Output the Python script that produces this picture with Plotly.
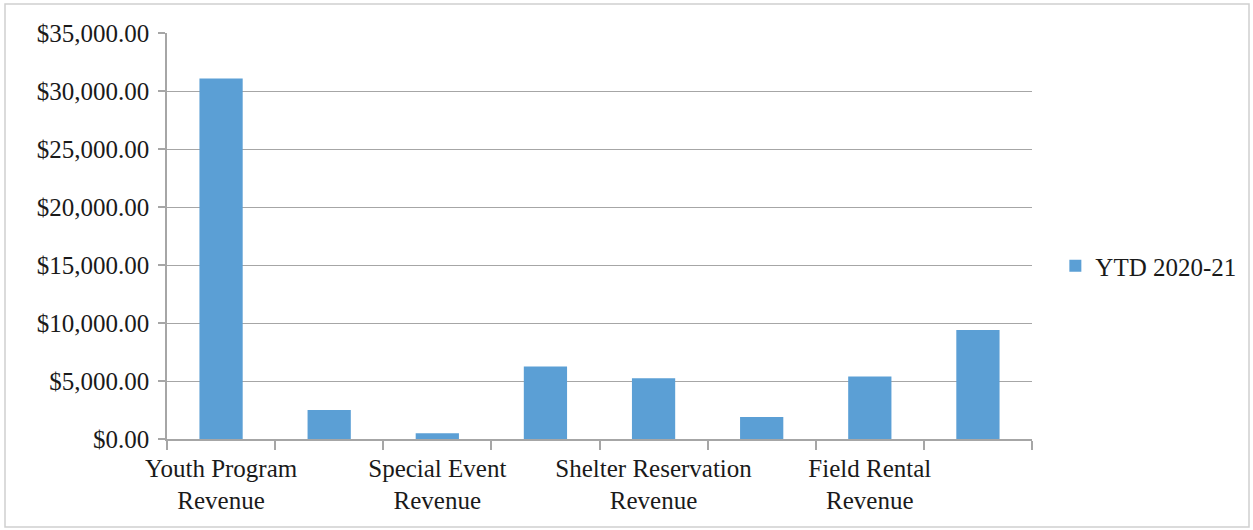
import plotly.graph_objects as go

# YTD 2020-21 revenue by line item (every other category is labelled on the axis)
positions = [0, 1, 2, 3, 4, 5, 6, 7]
revenue = [31070, 2510, 500, 6250, 5230, 1890, 5380, 9400]
label_positions = [0, 2, 4, 6]
tick_labels = [
    "Youth Program<br>Revenue",
    "Special Event<br>Revenue",
    "Shelter Reservation<br>Revenue",
    "Field Rental<br>Revenue",
]
series_name = "YTD 2020-21"
y_ticks = [0, 5000, 10000, 15000, 20000, 25000, 30000, 35000]

FONT = "Liberation Serif"
BAR = "#5b9fd5"
GRID = "#a6a6a6"

fig = go.Figure()
fig.add_trace(go.Bar(
    x=positions,
    y=revenue,
    name=series_name,
    width=0.4,
    marker=dict(color=BAR, line=dict(width=0)),
    showlegend=True,
))

fig.update_layout(
    width=1253,
    height=530,
    margin=dict(l=167, r=221, t=33, b=91),
    paper_bgcolor="white",
    plot_bgcolor="white",
    font=dict(family=FONT, size=25, color="#1a1a1a"),
    showlegend=True,
    legend=dict(
        x=1.027, y=0.426, xanchor="left", yanchor="middle",
        bgcolor="rgba(0,0,0,0)",
    ),
)

fig.update_xaxes(
    range=[-0.5, 7.5],
    tickmode="array",
    tickvals=label_positions,
    ticktext=tick_labels,
    ticks="",
    ticklabelstandoff=6,
    showgrid=False,
    showline=True,
    linecolor=GRID,
    linewidth=1.5,
    zeroline=False,
    minor=dict(
        tickmode="linear", tick0=-0.5, dtick=1,
        ticks="outside", ticklen=9, tickcolor=GRID, tickwidth=1.5,
        showgrid=False,
    ),
)

fig.update_yaxes(
    range=[0, 35000],
    tickmode="array",
    tickvals=y_ticks,
    tickformat="$,.2f",
    ticks="outside",
    ticklen=7,
    tickcolor=GRID,
    tickwidth=1.5,
    ticklabelstandoff=4,
    showgrid=True,
    gridcolor=GRID,
    gridwidth=1.2,
    showline=True,
    linecolor=GRID,
    linewidth=1.5,
    zeroline=False,
)

# Thin frame around the whole chart area
fig.add_shape(
    type="rect", xref="paper", yref="paper",
    x0=(5 - 167) / 865, x1=(1249 - 167) / 865,
    y0=(439 - 527) / 406, y1=(439 - 4) / 406,
    line=dict(color="#d0d0d0", width=1.5),
    fillcolor="rgba(0,0,0,0)",
    layer="below",
)

fig.write_html("out.html")
